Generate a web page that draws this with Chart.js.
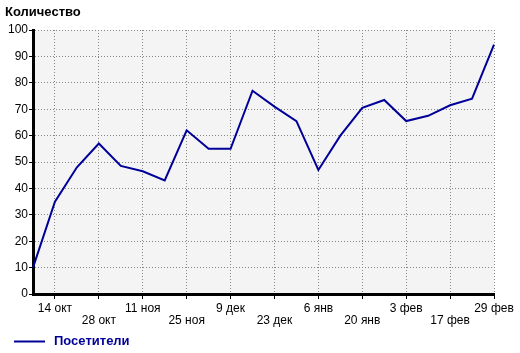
<!DOCTYPE html>
<html>
<head>
<meta charset="utf-8">
<script src="https://cdn.jsdelivr.net/npm/chart.js@4/dist/chart.umd.min.js"></script>
<style>
    html, body { margin: 0; padding: 0; background: #fff; }
    #wrap { width: 520px; height: 353px; }
</style>
</head>
<body>
<div id="wrap"><canvas id="chart" width="520" height="353"></canvas></div>
<script>
// weekly points, labels shown on every other week
const weeks = ['7 окт', '14 окт', '21 окт', '28 окт', '4 ноя', '11 ноя', '18 ноя', '25 ноя',
    '2 дек', '9 дек', '16 дек', '23 дек', '30 дек', '6 янв', '13 янв', '20 янв',
    '27 янв', '3 фев', '10 фев', '17 фев', '24 фев', '29 фев'];
const visitors = [10, 35, 48, 57, 48.5, 46.5, 43, 62, 55, 55, 77, 71, 65.5, 47, 60, 70.5,
    73.5, 65.5, 67.5, 71.5, 74, 94.5];
const seriesName = 'Посетители';
const yTitle = 'Количество';

const NAVY = '#000099';
const FONT = 'Arial, "Liberation Sans", sans-serif';

const decor = {
    id: 'decor',
    beforeDraw(chart) {
        const { ctx, chartArea: a } = chart;
        ctx.save();
        ctx.fillStyle = '#f4f4f4';
        ctx.fillRect(a.left, a.top, a.right - a.left, a.bottom - a.top);
        ctx.restore();
    },
    afterDraw(chart) {
        const { ctx } = chart;
        ctx.save();
        ctx.textBaseline = 'middle';
        ctx.fillStyle = '#000';
        ctx.font = 'bold 13px ' + FONT;
        ctx.fillText(yTitle, 5, 12);
        // legend
        ctx.strokeStyle = NAVY;
        ctx.lineWidth = 2;
        ctx.beginPath();
        ctx.moveTo(14, 341.5);
        ctx.lineTo(45, 341.5);
        ctx.stroke();
        ctx.fillStyle = NAVY;
        ctx.fillText(seriesName, 54, 341);
        ctx.restore();
    }
};

new Chart(document.getElementById('chart'), {
    type: 'line',
    data: {
        labels: weeks,
        datasets: [{
            label: seriesName,
            data: visitors,
            borderColor: NAVY,
            borderWidth: 2,
            pointRadius: 0,
            tension: 0,
            fill: false
        }]
    },
    options: {
        responsive: false,
        animation: false,
        layout: { padding: { left: 0, top: 30, right: 26, bottom: 23 } },
        plugins: { legend: { display: false }, tooltip: { enabled: false } },
        scales: {
            x: {
                offset: false,
                afterFit: s => { s.height = 36; },
                grid: {
                    color: c => c.index % 2 ? '#888' : 'rgba(0,0,0,0)',
                    tickColor: c => c.index % 2 ? '#000' : 'rgba(0,0,0,0)',
                    tickLength: 5,
                    tickWidth: 1,
                    tickBorderDash: [],
                    lineWidth: 1
                },
                border: { display: true, color: '#000', width: 3, dash: [1, 2] },
                ticks: {
                    autoSkip: false,
                    maxRotation: 0,
                    padding: 4,
                    color: '#000',
                    font: { family: FONT, size: 12, lineHeight: 1.0 },
                    callback: function (v, i) {
                        if (i % 2 === 0) return '';
                        const t = weeks[i];
                        return i % 4 === 1 ? [t, ''] : ['', t];
                    }
                }
            },
            y: {
                min: 0,
                max: 100,
                afterFit: s => { s.width = 33; },
                grid: {
                    color: '#888',
                    tickColor: '#000',
                    tickLength: 4,
                    tickBorderDash: [],
                    lineWidth: 1
                },
                border: { display: true, color: '#000', width: 3, dash: [1, 2] },
                ticks: {
                    stepSize: 10,
                    padding: 1,
                    color: '#000',
                    font: { family: FONT, size: 12 }
                }
            }
        }
    },
    plugins: [decor]
});
</script>
</body>
</html>
